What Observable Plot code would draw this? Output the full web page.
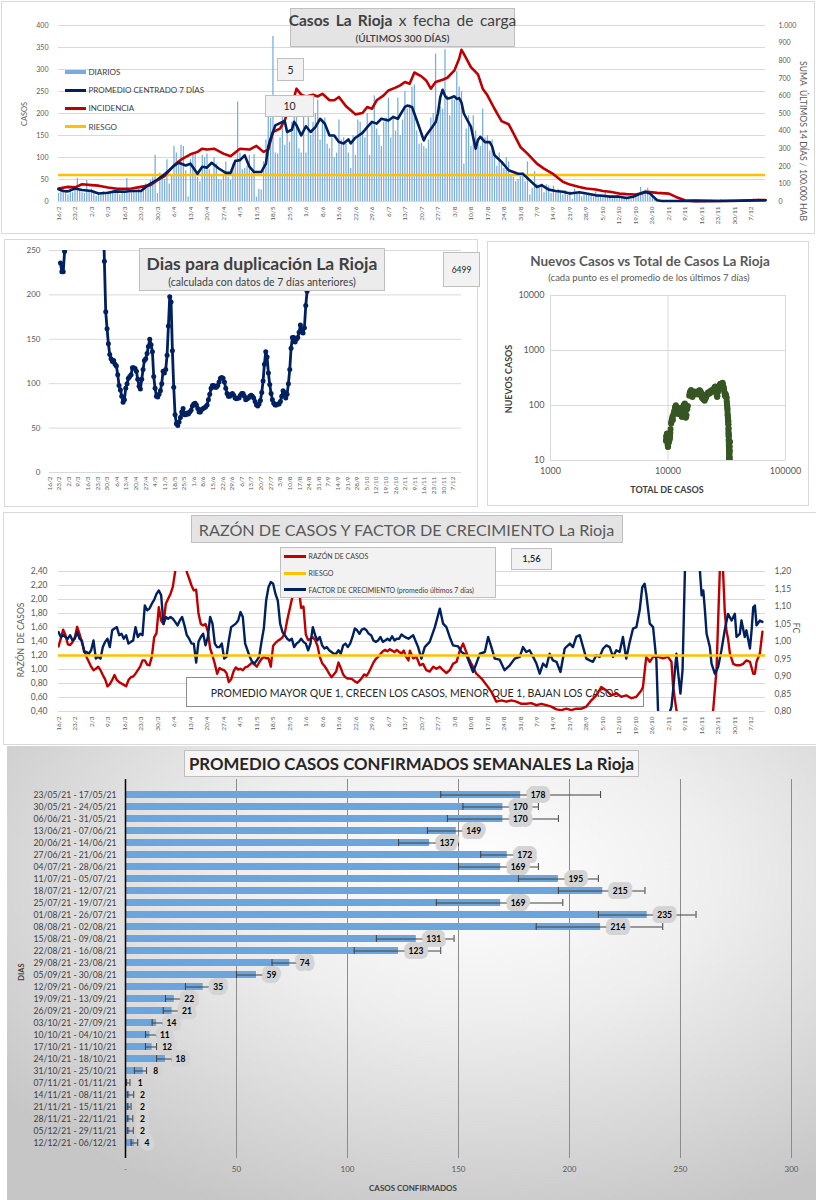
<!DOCTYPE html>
<html lang="es">
<head>
<meta charset="utf-8">
<title>Casos La Rioja</title>
<script src="https://cdn.jsdelivr.net/npm/d3@7"></script>
<script src="https://cdn.jsdelivr.net/npm/@observablehq/plot@0.6"></script>
<style>
  html,body{margin:0;padding:0;background:#fff;}
  #root{position:relative;width:816px;height:1200px;overflow:hidden;font-family:Lato,"Open Sans",sans-serif;color:#404040;}
  #root svg{overflow:visible;}
</style>
</head>
<body>
<div id="root"></div>
<script>
// ---------------- DATOS ----------------
const etiquetasFecha = ["16/2","23/2","2/3","9/3","16/3","23/3","30/3","6/4","13/4","20/4","27/4","4/5","11/5","18/5","25/5","1/6","8/6","15/6","22/6","29/6","6/7","13/7","20/7","27/7","3/8","10/8","17/8","24/8","31/8","7/9","14/9","21/9","28/9","5/10","12/10","19/10","26/10","2/11","9/11","16/11","23/11","30/11","7/12"];

// casos diarios desde 16/2 (301 días)
const diarios = [
 18,25,30,22,15,28,20, 32,52,25,20,18,48,22, 28,20,12,18,15,22,16, 22,18,25,28,20,15,24,
 20,52,18,22,25,20,28, 25,30,40,35,48,55,105, 18,65,55,50,95,40,60, 125,110,90,128,125,70,10,
 95,105,110,55,45,105,100, 108,72,60,100,85,50,48, 62,90,55,48,85,95,226, 110,72,75,80,105,65,106,
 10,28,26,90,140,200,190, 375,110,108,145,210,128,160, 135,180,205,240,120,110,200, 110,240,150,180,200,230,140,
 185,190,130,120,145,100,110, 185,140,145,130,110,75,150, 105,185,180,160,145,200,105, 180,240,165,150,125,180,190,
 235,145,195,160,235,150,185, 250,210,220,260,265,160,130, 132,125,120,140,190,200,335, 190,215,210,345,240,195,240,
 230,295,260,250,85,165,195, 125,195,160,130,125,210,145, 150,115,140,100,80,110,90, 75,100,90,60,55,45,50,
 62,65,45,90,15,30,68, 40,30,40,20,38,35,18, 35,20,28,20,15,25,14, 22,5,28,20,18,10,15,
 14,18,13,10,22,9,12, 10,20,8,12,6,10,14, 9,12,8,10,6,4,14, 18,14,32,20,26,30,12,
 22,8,5,3,2,1,1, 1,0,2,1,0,1,1, 0,3,1,2,1,0,3, 2,1,0,2,3,1,2,
 2,4,1,0,2,3,1, 2,3,1,4,2,3,2, 4,5,3,6,2,4,5
];

// promedio centrado 7 días [día, casos]
const promedio7 = [[0,28],[2,24],[4,23],[7,29.5],[10,26],[14,24],[17,18],[21,20],[24,23],[28,22],[31,24],[35,24],[38,37],[42,50],[45,62],[47,71],[49,81],[51,88],[54,82],[56,86],[59,63],[61,79],[63,77],[65,88],[68,75],[71,65],[73,65],[75,92],[77,94],[79,105],[81,79],[83,67],[86,67],[88,86],[89,124],[90,143],[92,173],[94,178],[96,183],[97,158],[99,163],[100,181],[101,173],[103,150],[105,171],[107,158],[109,169],[111,188],[113,177],[115,150],[117,150],[119,135],[121,132],[123,141],[124,132],[126,145],[129,156],[131,169],[133,181],[135,177],[137,188],[140,184],[142,192],[144,188],[147,215],[148,218],[150,215],[151,200],[153,170],[155,139],[156,150],[158,165],[160,180],[161,200],[162,237],[163,254],[164,240],[165,234],[166,235],[168,239],[169,233],[170,235],[171,225],[172,200],[174,180],[175,170],[177,120],[178,140],[179,147],[181,135],[183,135],[184,125],[185,105],[188,90],[191,71],[195,63],[197,63],[200,48],[203,33],[205,37],[208,27],[211,24],[214,22],[217,18],[221,21],[224,18],[228,14],[231,13],[234,11],[238,11],[241,8],[244,11],[247,18],[249,22],[251,18],[254,3],[256,1],[260,1],[265,1],[270,2],[280,1],[290,2],[300,3]];

// incidencia: suma últimos 14 días / 100.000 hab [día, valor]
const incidencia = [[0,74],[4,83],[7,80],[10,98],[14,93],[17,90],[21,80],[25,72],[28,72],[31,74],[35,83],[39,93],[42,121],[45,144],[49,206],[52,238],[56,268],[59,282],[61,300],[63,295],[66,300],[70,272],[73,257],[77,300],[81,295],[84,316],[87,282],[89,295],[91,395],[94,414],[96,461],[98,537],[100,593],[101,641],[103,607],[105,597],[108,607],[110,597],[112,612],[115,575],[117,575],[119,594],[122,541],[124,518],[126,495],[129,503],[131,537],[133,527],[135,575],[138,603],[140,631],[143,647],[145,660],[147,679],[149,669],[151,733],[154,711],[156,688],[158,641],[160,679],[163,692],[165,703],[168,745],[170,811],[171,862],[172,839],[175,764],[178,722],[180,641],[182,603],[185,527],[188,457],[191,439],[193,389],[196,310],[199,272],[203,215],[206,187],[210,155],[214,112],[217,96],[221,83],[224,74],[228,68],[231,60],[234,55],[238,45],[241,42],[245,40],[248,49],[250,55],[254,49],[259,45],[262,26],[266,6],[270,2],[280,3],[290,4],[296,8],[300,8]];
const riesgoIncidencia = 150;

// días para duplicación
const duplTramo1Inicio = 8;
const duplTramo1 = [236,226,226,249,290];
const duplTramo2Inicio = 39;
const duplTramo2 = [300,238,181,162,145,133,128,125,126,122,120,110,98,93,86,79,82,95,100,106,108,110,118,118,117,114,105,97,94,105,116,126,128,134,142,150,144,136,108,95,86,85,88,92,100,114,112,116,132,165,198,192,137,96,65,55,53,57,62,68,72,65,65,67,66,68,70,75,77,78,76,72,68,68,71,72,73,74,76,82,88,95,98,98,96,96,98,102,106,107,106,102,95,89,86,86,88,89,87,84,83,84,84,87,89,89,86,82,83,84,86,87,86,84,80,76,75,77,81,90,103,122,136,130,112,99,89,82,78,76,76,77,77,80,86,92,90,84,88,100,116,140,152,152,147,150,152,158,166,160,157,163,188,204,215,280];
const duplValorCaja = "6499";

// total acumulado al inicio del período
const totalInicial = 9450;

// razón de casos (diaria desde 16/2) y tramo posterior [día, valor]
const razonDiario = [1.33,1.44,1.57,1.49,1.36,1.35,1.39,1.46,1.61,1.51,1.39,1.28,1.18,1.11,1.04,0.99,1.01,1.04,0.99,0.92,0.86,0.76,0.79,0.85,0.92,0.85,0.82,0.80,0.78,0.76,0.85,0.89,0.90,0.94,0.99,1.04,1.13,1.13,1.07,1.06,1.18,1.46,1.52,1.89,1.70,1.65,1.94,2.01,2.08,2.18,2.40,2.90,3.30,3.40,3.00,2.39,2.30,2.20,2.13,2.14,1.80,1.65,1.63,1.65,1.55,1.30,1.20,1.08,0.94,1.02,1.00,0.99,0.95,0.82,0.86,0.97,1.03,1.00,1.01,0.99,1.03,1.04,1.07,1.10,1.07,1.04,1.10,1.15,1.18,1.16,1.16,1.04,1.34,1.38,1.41,1.43,1.46,1.52,1.70,1.85,2.00,2.12,2.22,2.15,1.88,1.90,1.50,1.42,1.44,1.46,1.42,1.34,1.18,1.09,1.05,1.00,0.94,0.89,0.93,0.97,1.10,1.02,0.93,0.89,0.87,0.87,0.86,0.83,0.81,0.84,0.88,0.93,0.91,0.96,1.03,1.10,1.15,1.18,1.22,1.26,1.28,1.26,1.29,1.27,1.25,1.28,1.25,1.23,1.27,1.18,1.13];
const razonTramo2 = [[149.1,1.27],[150.5,1.16],[151.9,1.18],[153.3,1.06],[154.7,1.08],[156.1,0.99],[157.5,0.97],[159,1.04],[160.4,1.01],[161.8,1.04],[163.2,0.99],[164.6,0.95],[166,0.99],[167.4,1.08],[168.9,1.11],[170.3,1.27],[171.7,1.37],[172.8,1.27],[173.8,1.18],[175.2,1.08],[177.3,0.94],[179.5,0.87],[181.6,0.78],[183.7,0.68],[185.8,0.54],[187.9,0.56],[190,0.54],[192.2,0.56],[194.3,0.54],[196.4,0.51],[198.5,0.51],[200.6,0.52],[202.8,0.49],[204.9,0.51],[207,0.49],[209.1,0.47],[211.3,0.43],[213.4,0.42],[215.5,0.44],[217.6,0.42],[219.7,0.44],[221.9,0.44],[224,0.47],[226.1,0.56],[228.2,0.63],[230.3,0.75],[232.5,0.70],[234.6,0.63],[236.7,0.66],[238.8,0.61],[240.9,0.63],[243.1,0.59],[245.2,0.61],[247.3,0.70],[248,0.75],[249.4,1.18],[250.9,1.11],[252.3,1.18],[254.4,1.18],[256.5,1.16],[258.6,1.18],[260.1,1.11],[260.8,0.75],[262.2,0.42],[263.6,0.30],[270,0.20],[277,0.30],[277.8,0.42],[279.2,0.99],[280.6,2.40],[281.3,2.80],[282,2.40],[282.7,1.84],[283.4,1.56],[284.1,1.44],[284.9,1.23],[286.3,1.08],[287.7,1.06],[289.1,1.06],[290.5,1.08],[291.9,1.13],[293.4,1.11],[294.8,0.94],[295.5,0.94],[296.2,1.11],[297.6,1.23],[298.7,1.54]];
const riesgoRazon = 1.2;

// factor de crecimiento (promedio últimos 7 días)
const fcDiario = [1.027,1.013,1.018,1.013,1.008,1.018,1.003,1.008,1.027,1.008,1.003,0.970,0.970,0.965,0.975,1.003,0.951,0.956,0.951,0.984,0.999,1.008,0.984,1.032,1.037,1.041,1.018,1.022,1.008,1.018,0.994,0.999,1.003,1.041,1.013,1.022,1.018,1.103,1.089,1.094,1.108,1.119,1.136,1.146,1.132,1.050,1.070,1.065,1.070,1.065,1.056,1.046,1.060,1.070,1.046,1.018,1.008,0.994,0.994,0.940,0.999,1.013,1.022,0.989,1.013,1.070,1.051,0.994,0.984,0.984,0.994,0.951,0.956,1.003,1.041,1.046,1.051,1.060,1.084,1.070,0.994,0.975,0.956,0.942,0.937,0.946,0.956,0.999,1.037,1.117,1.155,1.170,1.165,1.136,1.117,1.051,1.027,1.018,1.008,1.003,1.008,0.984,0.994,0.999,1.008,0.999,0.994,0.975,0.994,1.041,1.018,1.003,1.013,0.989,0.980,0.984,0.975,0.970,0.965,0.965,0.975,0.965,0.989,0.994,0.984,0.994,1.013,1.037,1.032,1.022,1.034,1.037,1.032,1.022,1.018,1.003,0.999,1.003,1.013,0.999,1.003,1.008,1.003,1.015,1.003,1.008,1.008,1.020,1.015,1.011,1.008];
const fcTramo2 = [[150.5,1.018],[152.6,0.984],[154,0.951],[155.4,0.984],[157.5,0.999],[159.7,1.041],[161.8,1.094],[163.2,1.051],[164.6,1.041],[166,1.013],[167.4,0.989],[169.6,0.986],[171,0.970],[173.1,0.961],[174.5,0.937],[175.9,0.913],[177.3,0.937],[178.8,0.965],[180.9,0.970],[182.3,1.013],[183.7,0.984],[185.1,0.951],[187.2,0.948],[189.3,0.918],[191.5,0.932],[193.6,0.951],[195.7,0.956],[197.1,0.984],[198.5,0.970],[199.9,0.975],[201.4,0.956],[202.8,0.937],[204.2,0.908],[205.6,0.937],[207,0.927],[208.4,0.965],[209.8,0.946],[211.3,0.942],[213,0.913],[214.8,0.980],[217,0.994],[218.3,0.984],[219.7,1.013],[221.2,1.018],[222.6,0.984],[224,0.951],[225.4,0.946],[226.8,0.942],[228.2,0.961],[229.6,0.956],[231.1,0.980],[232.5,0.989],[233.9,0.984],[235.3,0.956],[236.7,0.975],[238.1,0.970],[239.5,1.013],[240.9,0.951],[242.4,0.999],[243.8,1.037],[245.2,1.041],[246.6,1.089],[247.7,1.155],[248.7,1.165],[249.4,1.136],[250.9,1.051],[252.3,1.041],[253.7,0.946],[254.4,0.804],[255.1,0.770],[258,0.770],[260.1,0.813],[260.8,0.861],[262.2,0.965],[262.9,0.913],[263.9,0.851],[264.8,0.918],[265.8,1.200],[266.5,1.280],[269.3,1.300],[271.9,1.250],[272.2,1.198],[272.9,1.132],[273.6,1.146],[274.3,1.089],[275,1.022],[276.4,0.984],[277.1,0.937],[278.5,0.908],[279.9,0.927],[281.3,0.975],[282.7,1.032],[284.1,1.079],[285.6,1.060],[287,1.079],[287.7,1.013],[289.1,1.022],[289.8,1.060],[291.2,1.013],[291.9,1.032],[293.4,0.980],[294.1,1.032],[294.8,1.098],[295.5,1.103],[296.2,1.046],[297.6,1.060],[298.7,1.056]];
const ticksRazon = [0.4,0.6,0.8,1.0,1.2,1.4,1.6,1.8,2.0,2.2,2.4];
const ticksFC = [0.80,0.85,0.90,0.95,1.00,1.05,1.10,1.15,1.20];

// promedio semanal
const semanas = ["23/05/21 - 17/05/21","30/05/21 - 24/05/21","06/06/21 - 31/05/21","13/06/21 - 07/06/21","20/06/21 - 14/06/21","27/06/21 - 21/06/21","04/07/21 - 28/06/21","11/07/21 - 05/07/21","18/07/21 - 12/07/21","25/07/21 - 19/07/21","01/08/21 - 26/07/21","08/08/21 - 02/08/21","15/08/21 - 09/08/21","22/08/21 - 16/08/21","29/08/21 - 23/08/21","05/09/21 - 30/08/21","12/09/21 - 06/09/21","19/09/21 - 13/09/21","26/09/21 - 20/09/21","03/10/21 - 27/09/21","10/10/21 - 04/10/21","17/10/21 - 11/10/21","24/10/21 - 18/10/21","31/10/21 - 25/10/21","07/11/21 - 01/11/21","14/11/21 - 08/11/21","21/11/21 - 15/11/21","28/11/21 - 22/11/21","05/12/21 - 29/11/21","12/12/21 - 06/12/21"];
const promedioSemanal = [178,170,170,149,137,172,169,195,215,169,235,214,131,123,74,59,35,22,21,14,11,12,18,8,1,2,2,2,2,4];
const minSemanal = [142,152,145,136,123,160,150,177,195,140,213,185,113,103,66,50,27,18,17,12,9,9,14,4,0.5,1,1,1,1,2.5];
const maxSemanal = [214,186,195,160,150,182,186,213,234,197,257,242,148,142,80,64,38,25,25,17,14,14,21,9.5,2,3.7,2.5,3.3,3.5,5.5];
const ticksSemanal = [0,50,100,150,200,250,300];

// ---------------- UTILIDADES ----------------
const root = document.getElementById("root");
const FONT = "Lato, 'Open Sans', sans-serif";
function capa(node, x, y) {
  const d = document.createElement("div");
  d.style.cssText = `position:absolute;left:${x}px;top:${y}px;`;
  d.appendChild(node); root.appendChild(d);
}
function caja(x, y, w, h, fondo, borde) {
  const d = document.createElement("div");
  d.style.cssText = `position:absolute;left:${x}px;top:${y}px;width:${w}px;height:${h}px;background:${fondo};border:1px solid ${borde};box-sizing:border-box;`;
  root.appendChild(d); return d;
}
function texto(html, x, y, size, o = {}) {
  const d = document.createElement("div");
  const ancla = o.ancla || "middle";
  const tx = ancla === "middle" ? "-50%" : ancla === "end" ? "-100%" : "0";
  d.style.cssText = `position:absolute;left:${x}px;top:${y}px;white-space:nowrap;line-height:1;font-family:${FONT};font-size:${size}px;font-weight:${o.peso||400};color:${o.color||"#404040"};letter-spacing:${o.ls||0}px;word-spacing:${o.ws||0}px;transform:translate(${tx},-50%)${o.rot ? ` rotate(${o.rot}deg)` : ""};`;
  d.innerHTML = html; root.appendChild(d);
}
const estilo = {background: "transparent", fontFamily: FONT, color: "#595959", overflow: "visible"};
const fechaTick = d => etiquetasFecha[Math.round(d / 7)];
const ticksFecha = etiquetasFecha.map((_, i) => i * 7);
const fmtMiles = d3.formatLocale({decimal: ",", thousands: ".", grouping: [3], currency: ["$", ""]}).format(",");
const coma = d => d.toFixed(2).replace(".", ",");

// ---------------- MARCOS ----------------
caja(1, 1, 814, 233, "#fff", "#d9d9d9");
caja(4, 239, 474, 268, "#fff", "#d9d9d9");
caja(487, 241, 322, 265, "#fff", "#d9d9d9");
caja(3, 512, 815, 233, "#fff", "#d9d9d9");
const fondo5 = document.createElement("div");
fondo5.style.cssText = "position:absolute;left:7px;top:746px;width:809px;height:454px;background:radial-gradient(ellipse 75% 80% at 58% 28%, #ffffff 0%, #eeeeee 40%, #c6c6c6 100%);";
root.appendChild(fondo5);

// ---------------- PANEL 1 ----------------
const serieDiaria = diarios.map((v, i) => ({dia: i, v}));
capa(Plot.plot({
  width: 816, height: 235, marginLeft: 58, marginRight: 51, marginTop: 25, marginBottom: 34,
  style: estilo,
  x: {domain: [0, 300]},
  y: {domain: [0, 400]},
  marks: [
    Plot.gridY(d3.range(0, 401, 50), {stroke: "#d9d9d9", strokeOpacity: 1}),
    Plot.axisY(d3.range(0, 401, 50), {anchor: "left", tickSize: 0, tickPadding: 10, label: null, fontSize: 7, fill: "#595959"}),
    Plot.axisY(d3.range(0, 401, 40), {anchor: "right", tickSize: 0, tickPadding: 13, label: null, fontSize: 7, fill: "#595959", tickFormat: d => fmtMiles(Math.round(d * 2.5))}),
    Plot.axisX(ticksFecha, {anchor: "bottom", tickSize: 0, tickPadding: 5, tickRotate: -90, label: null, fontSize: 6.5, fill: "#595959", tickFormat: fechaTick}),
    Plot.ruleX(serieDiaria, {x: "dia", y1: 0, y2: "v", stroke: "#78acde", strokeWidth: 1.25, clip: true}),
    Plot.ruleY([riesgoIncidencia / 2.5], {stroke: "#ffc000", strokeWidth: 2.5}),
    Plot.line(incidencia, {x: d => d[0], y: d => d[1] / 2.5, stroke: "#c00000", strokeWidth: 2.6}),
    Plot.line(promedio7, {x: d => d[0], y: d => d[1], stroke: "#002060", strokeWidth: 2.6})
  ]
}), 0, 0);

// ---------------- PANEL 2 ----------------
const dupl1 = duplTramo1.map((v, i) => ({dia: duplTramo1Inicio + i, v}));
const dupl2 = duplTramo2.map((v, i) => ({dia: duplTramo2Inicio + i * 0.971, v}));
capa(Plot.plot({
  width: 480, height: 270, marginLeft: 49, marginRight: 19, marginTop: 12, marginBottom: 36,
  style: estilo,
  x: {domain: [0, 300]},
  y: {domain: [0, 250]},
  marks: [
    Plot.gridY(d3.range(0, 251, 50), {stroke: "#d9d9d9", strokeOpacity: 1}),
    Plot.axisY(d3.range(0, 251, 50), {tickSize: 0, tickPadding: 9, label: null, fontSize: 8, fill: "#595959"}),
    Plot.axisX(ticksFecha, {tickSize: 0, tickPadding: 4, tickRotate: -90, label: null, fontSize: 6.4, fill: "#595959", tickFormat: fechaTick}),
    Plot.line(dupl1, {x: "dia", y: "v", stroke: "#002060", strokeWidth: 2.8, clip: true}),
    Plot.line(dupl2, {x: "dia", y: "v", stroke: "#002060", strokeWidth: 2.8, clip: true}),
    Plot.dot(dupl1, {x: "dia", y: "v", r: 2.5, fill: "#002060", clip: true}),
    Plot.dot(dupl2, {x: "dia", y: "v", r: 2.5, fill: "#002060", clip: true})
  ]
}), 0, 238);

// ---------------- PANEL 3 ----------------
let acumulado = totalInicial;
const totales = diarios.map(v => (acumulado += v));
const nuevosVsTotal = diarios.map((v, i) => i < 6 ? null : ({total: totales[i], nuevos: d3.mean(diarios.slice(i - 6, i + 1))}))
  .filter(d => d && d.nuevos > 0);
capa(Plot.plot({
  width: 332, height: 270, marginLeft: 66, marginRight: 31, marginTop: 57, marginBottom: 48,
  style: estilo,
  x: {type: "log", domain: [1000, 100000]},
  y: {type: "log", domain: [10, 10000]},
  marks: [
    Plot.gridY([10, 100, 1000, 10000], {stroke: "#d9d9d9", strokeOpacity: 1}),
    Plot.gridX([1000, 10000, 100000], {stroke: "#d9d9d9", strokeOpacity: 1}),
    Plot.axisY([10, 100, 1000, 10000], {tickSize: 0, tickPadding: 6, label: null, fontSize: 9, fill: "#595959", tickFormat: d => String(d)}),
    Plot.axisX([1000, 10000, 100000], {tickSize: 0, tickPadding: 7, label: null, fontSize: 9, fill: "#595959", tickFormat: d => String(d)}),
    Plot.dot(nuevosVsTotal, {x: "total", y: "nuevos", r: 3, fill: "#375623", clip: true})
  ]
}), 484, 238);

// ---------------- PANEL 4 ----------------
const aIzq = fc => 0.4 + (fc - 0.8) * 5;
const razonPts = razonDiario.map((v, i) => [i * 0.99, v]).concat(razonTramo2);
const fcPts = fcDiario.map((v, i) => [i * 0.99, v]).concat(fcTramo2);
const base4 = {width: 816, height: 234, marginLeft: 58, marginRight: 51, marginTop: 60, marginBottom: 34, style: estilo};
capa(Plot.plot({
  ...base4,
  x: {domain: [0, 300]}, y: {domain: [0.4, 2.4]},
  marks: [
    Plot.gridY(ticksRazon, {stroke: "#d9d9d9", strokeOpacity: 1}),
    Plot.axisY(ticksRazon, {tickSize: 0, tickPadding: 11, label: null, fontSize: 8.5, fill: "#595959", tickFormat: coma}),
    Plot.axisY(ticksFC.map(aIzq), {anchor: "right", tickSize: 0, tickPadding: 9, label: null, fontSize: 8.5, fill: "#595959", tickFormat: d => coma((d - 0.4) / 5 + 0.8)}),
    Plot.axisX(ticksFecha, {tickSize: 0, tickPadding: 5, tickRotate: -90, label: null, fontSize: 6.5, fill: "#595959", tickFormat: fechaTick})
  ]
}), 0, 511);
caja(186, 677, 458, 30, "#fff", "#8c8c8c");
texto("PROMEDIO MAYOR QUE 1, CRECEN LOS CASOS, MENOR QUE 1, BAJAN LOS CASOS", 415, 692.5, 10.5, {color: "#262626"});
capa(Plot.plot({
  ...base4,
  x: {domain: [0, 300], axis: null}, y: {domain: [0.4, 2.4], axis: null},
  marks: [
    Plot.line(razonPts, {x: d => d[0], y: d => d[1], stroke: "#c00000", strokeWidth: 2.4, clip: true}),
    Plot.line(fcPts, {x: d => d[0], y: d => aIzq(d[1]), stroke: "#002060", strokeWidth: 2.4, clip: true}),
    Plot.ruleY([riesgoRazon], {stroke: "#ffc000", strokeWidth: 2.4})
  ]
}), 0, 511);

// ---------------- PANEL 5 ----------------
const filas = semanas.map((s, i) => ({s, v: promedioSemanal[i], lo: minSemanal[i], hi: maxSemanal[i]}));
capa(Plot.plot({
  width: 809, height: 454, marginLeft: 118, marginRight: 25, marginTop: 33, marginBottom: 42,
  style: estilo,
  x: {domain: [0, 300]},
  y: {domain: semanas, padding: 0.42},
  marks: [
    Plot.ruleX(ticksSemanal.slice(1), {stroke: "#8c8c8c", strokeWidth: 1}),
    Plot.barX(filas, {x: "v", y: "s", fill: "#6ca5dc"}),
    Plot.ruleY(filas, {x1: "lo", x2: "hi", y: "s", stroke: "#404040", strokeWidth: 1}),
    Plot.tickX(filas, {x: "lo", y: "s", stroke: "#404040", strokeWidth: 1}),
    Plot.tickX(filas, {x: "hi", y: "s", stroke: "#404040", strokeWidth: 1}),
    Plot.ruleX([0], {stroke: "#000", strokeWidth: 1.5}),
    Plot.text(filas, {x: "v", y: "s", text: d => String(d.v), dx: 10, textAnchor: "start", fontWeight: "bold", fontSize: 8.5, fill: "#000", stroke: "#d4d4d4", strokeWidth: 10, strokeLinejoin: "round"}),
    Plot.axisY({tickSize: 0, tickPadding: 9, label: null, fontSize: 8.6, fill: "#404040"}),
    Plot.axisX(ticksSemanal, {tickSize: 0, tickPadding: 8, label: null, fontSize: 8, fill: "#595959", tickFormat: d => d === 0 ? "-" : String(d)})
  ]
}), 7, 746);

// ---------------- TEXTOS Y CAJAS ----------------
// Panel 1
caja(290, 8, 225, 39, "#e4e4e4", "#bfbfbf");
texto("<b>Casos La Rioja</b> x fecha de carga", 402.5, 21, 15.5, {color: "#404040", ws: 2.5});
texto("(ÚLTIMOS 300 DÍAS)", 402.5, 38, 10, {peso: 600, color: "#404040"});
caja(65, 70, 21, 4, "#78acde", "#78acde");
caja(65, 88.5, 21, 3, "#002060", "#002060");
caja(65, 106.8, 21, 3, "#c00000", "#c00000");
caja(65, 125.2, 21, 3, "#ffc000", "#ffc000");
texto("DIARIOS", 88.5, 71.8, 8, {ancla: "start", color: "#404040"});
texto("PROMEDIO CENTRADO 7 DÍAS", 88.5, 90, 8, {ancla: "start", color: "#404040"});
texto("INCIDENCIA", 88.5, 108.3, 8, {ancla: "start", color: "#404040"});
texto("RIESGO", 88.5, 126.7, 8, {ancla: "start", color: "#404040"});
caja(277, 58, 27, 23, "#f2f2f2", "#bfbfbf");
texto("5", 290.5, 69.5, 10.5, {color: "#262626"});
caja(265, 95, 49, 22, "#f2f2f2", "#bfbfbf");
texto("10", 289.5, 106, 10.5, {color: "#262626"});
texto("CASOS", 25, 114, 7.5, {rot: -90, color: "#595959"});
texto("SUMA&nbsp; ÚLTIMOS 14 DÍAS / 100.000 HAB", 803, 141, 8.6, {rot: 90, color: "#595959"});

// Panel 2
caja(139, 248, 246, 43, "#ececec", "#bfbfbf");
texto("Dias para duplicación La Rioja", 262, 263.5, 17.5, {peso: 700, color: "#404040"});
texto("(calculada con datos de 7 días anteriores)", 262, 282, 10.5, {color: "#404040"});
caja(443, 252, 37, 35, "#f2f2f2", "#bfbfbf");
texto(duplValorCaja, 461.5, 270, 8.5, {color: "#262626"});

// Panel 3
texto("Nuevos Casos vs Total de Casos La Rioja", 650, 261.5, 13.5, {peso: 700, color: "#595959"});
texto("(cada punto es el promedio de los últimos 7 días)", 649, 277.5, 9.5, {color: "#595959"});
texto("NUEVOS CASOS", 507.5, 379, 9, {peso: 700, rot: -90, color: "#404040"});
texto("TOTAL DE CASOS", 667, 488.5, 9, {peso: 700, color: "#404040"});

// Panel 4
caja(191, 515, 432, 28, "#e4e4e4", "#bfbfbf");
texto("RAZÓN DE CASOS Y FACTOR DE CRECIMIENTO La Rioja", 406.5, 529.5, 16.2, {color: "#595959"});
caja(280, 547, 216, 51, "#f2f2f2", "#bfbfbf");
caja(284, 554.5, 22, 3, "#c00000", "#c00000");
caja(284, 571.5, 22, 3, "#ffc000", "#ffc000");
caja(284, 588, 22, 3, "#002060", "#002060");
texto("RAZÓN DE CASOS", 308.5, 556, 7, {ancla: "start", color: "#404040"});
texto("RIESGO", 308.5, 573, 7, {ancla: "start", color: "#404040"});
texto("FACTOR DE CRECIMIENTO (promedio últimos 7 días)", 308.5, 589.5, 7, {ancla: "start", color: "#404040"});
caja(511, 548, 41, 22, "#f2f2f2", "#bfbfbf");
texto("1,56", 531.5, 559, 9.5, {peso: 600, color: "#262626"});
texto("RAZÓN&nbsp; DE CASOS", 21, 640, 8.5, {rot: -90, color: "#595959"});
texto("FC", 796, 628, 8.5, {rot: 90, color: "#595959"});

// Panel 5
caja(184, 750, 455, 27, "#f5f5f5", "#bfbfbf");
texto("PROMEDIO CASOS CONFIRMADOS SEMANALES La Rioja", 411.5, 763.5, 16.8, {peso: 700, color: "#262626"});
texto("CASOS CONFIRMADOS", 413, 1187.5, 8, {peso: 700, color: "#404040"});
texto("DIAS", 22, 972, 7.5, {peso: 700, rot: -90, color: "#404040"});
</script>
</body>
</html>
